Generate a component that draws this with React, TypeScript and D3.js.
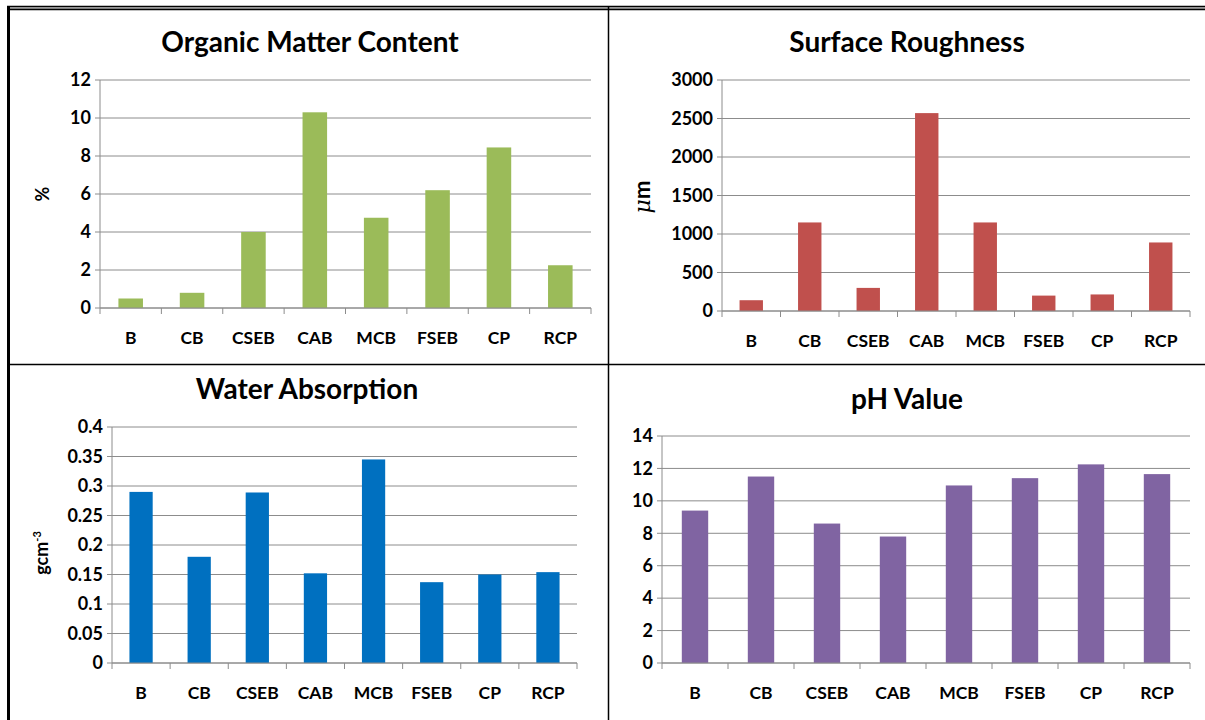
import React from 'react';
import * as d3 from 'd3';

const categories = ['B', 'CB', 'CSEB', 'CAB', 'MCB', 'FSEB', 'CP', 'RCP'];

const organicMatter = [0.5, 0.8, 4.0, 10.3, 4.75, 6.2, 8.45, 2.25];
const surfaceRoughness = [140, 1150, 300, 2570, 1150, 200, 215, 890];
const waterAbsorption = [0.29, 0.18, 0.289, 0.152, 0.345, 0.137, 0.15, 0.154];
const phValue = [9.4, 11.5, 8.6, 7.8, 10.95, 11.4, 12.25, 11.65];

const organicTicks = [0, 2, 4, 6, 8, 10, 12];
const roughnessTicks = [0, 500, 1000, 1500, 2000, 2500, 3000];
const waterTicks = [0, 0.05, 0.1, 0.15, 0.2, 0.25, 0.3, 0.35, 0.4];
const phTicks = [0, 2, 4, 6, 8, 10, 12, 14];

const FONT = 'Lato, "Open Sans", sans-serif';

interface PanelProps {
  title: string;
  values: number[];
  ticks: number[];
  color: string;
  x0: number;
  x1: number;
  yTop: number;
  yBot: number;
  titleX: number;
  titleY: number;
  yLabel?: React.ReactNode;
  yLabelX?: number;
  yLabelY?: number;
}

function Panel(p: PanelProps) {
  const x = d3.scaleBand<string>().domain(categories).range([p.x0, p.x1]).paddingInner(0.6).paddingOuter(0.3);
  const band = d3.scaleBand<string>().domain(categories).range([p.x0, p.x1]);
  const y = d3.scaleLinear().domain([0, p.ticks[p.ticks.length - 1]]).range([p.yBot, p.yTop]);
  const fmt = (v: number) => String(+v.toFixed(2));
  return (
    <g>
      {p.ticks.map(t => (
        <line key={'g' + t} x1={p.x0 - 5} x2={p.x1} y1={y(t)} y2={y(t)} stroke="#8c8c8c" strokeWidth={1} />
      ))}
      <line x1={p.x0} x2={p.x0} y1={p.yTop} y2={p.yBot} stroke="#8c8c8c" />
      {p.ticks.map(t => (
        <text key={'t' + t} x={p.x0 - 9} y={y(t)} dy="0.35em" textAnchor="end"
          fontFamily={FONT} fontWeight="bold" fontSize={18}>{fmt(t)}</text>
      ))}
      {categories.map((c, i) => (
        <rect key={c} x={x(c)} y={y(p.values[i])} width={x.bandwidth()} height={p.yBot - y(p.values[i])}
          fill={p.color} />
      ))}
      <line x1={p.x0} x2={p.x1} y1={p.yBot} y2={p.yBot} stroke="#8c8c8c" />
      {categories.concat(['end']).map((c, i) => {
        const xx = i < categories.length ? (band(c) as number) : p.x1;
        return <line key={'xt' + i} x1={xx} x2={xx} y1={p.yBot} y2={p.yBot + 6} stroke="#8c8c8c" />;
      })}
      {categories.map(c => (
        <text key={'l' + c} x={(band(c) as number) + band.bandwidth() / 2} y={p.yBot + 36} textAnchor="middle"
          fontFamily={FONT} fontWeight="bold" fontSize={17.5}>{c}</text>
      ))}
      <text x={p.titleX} y={p.titleY} dy="0.35em" textAnchor="middle" fontFamily={FONT} fontWeight="bold" fontSize={28}>
        {p.title}
      </text>
      {p.yLabel && (
        <text transform={`translate(${p.yLabelX},${p.yLabelY ?? (p.yTop + p.yBot) / 2}) rotate(-90)`} textAnchor="middle"
          dy="0.35em" fontFamily={FONT} fontWeight="bold" fontSize={18}>
          {p.yLabel}
        </text>
      )}
    </g>
  );
}

export default function App() {
  return (
    <svg width={1205} height={720} style={{ position: 'absolute', left: 0, top: 0, background: '#fff' }}>
      <rect x={0} y={0} width={1205} height={720} fill="#fff" />
      {/* frame */}
      <line x1={7} x2={1205} y1={6.5} y2={6.5} stroke="#000" strokeWidth={1.5} />
      <line x1={7} x2={1205} y1={8} y2={8} stroke="#888" strokeWidth={1.5} />
      <line x1={7} x2={1205} y1={9.5} y2={9.5} stroke="#000" strokeWidth={1.5} />
      <line x1={8.5} x2={8.5} y1={6} y2={720} stroke="#000" strokeWidth={3} />
      <line x1={608.5} x2={608.5} y1={6} y2={720} stroke="#000" strokeWidth={1.5} />
      <line x1={8} x2={1205} y1={364.5} y2={364.5} stroke="#000" strokeWidth={1.5} />

      <Panel title="Organic Matter Content" values={organicMatter} ticks={organicTicks} color="#9BBB59"
        x0={100} x1={591} yTop={80} yBot={308} titleX={310} titleY={42}
        yLabel="%" yLabelX={43} />
      <Panel title="Surface Roughness" values={surfaceRoughness} ticks={roughnessTicks} color="#C0504D"
        x0={722} x1={1190} yTop={80} yBot={311} titleX={907} titleY={42}
        yLabel={<tspan fontSize={22}><tspan fontStyle="italic" fontWeight="normal" fontFamily="'DejaVu Serif', serif">μ</tspan>m</tspan>}
        yLabelX={644} yLabelY={197} />
      <Panel title="Water Absorption" values={waterAbsorption} ticks={waterTicks} color="#0070C0"
        x0={112} x1={577} yTop={427} yBot={663} titleX={307} titleY={389}
        yLabel={<tspan>gcm<tspan dy={-7} fontSize={11}>-3</tspan></tspan>} yLabelX={42} yLabelY={553} />
      <Panel title="pH Value" values={phValue} ticks={phTicks} color="#8064A2"
        x0={662} x1={1190} yTop={436} yBot={663} titleX={907} titleY={399} />
    </svg>
  );
}
